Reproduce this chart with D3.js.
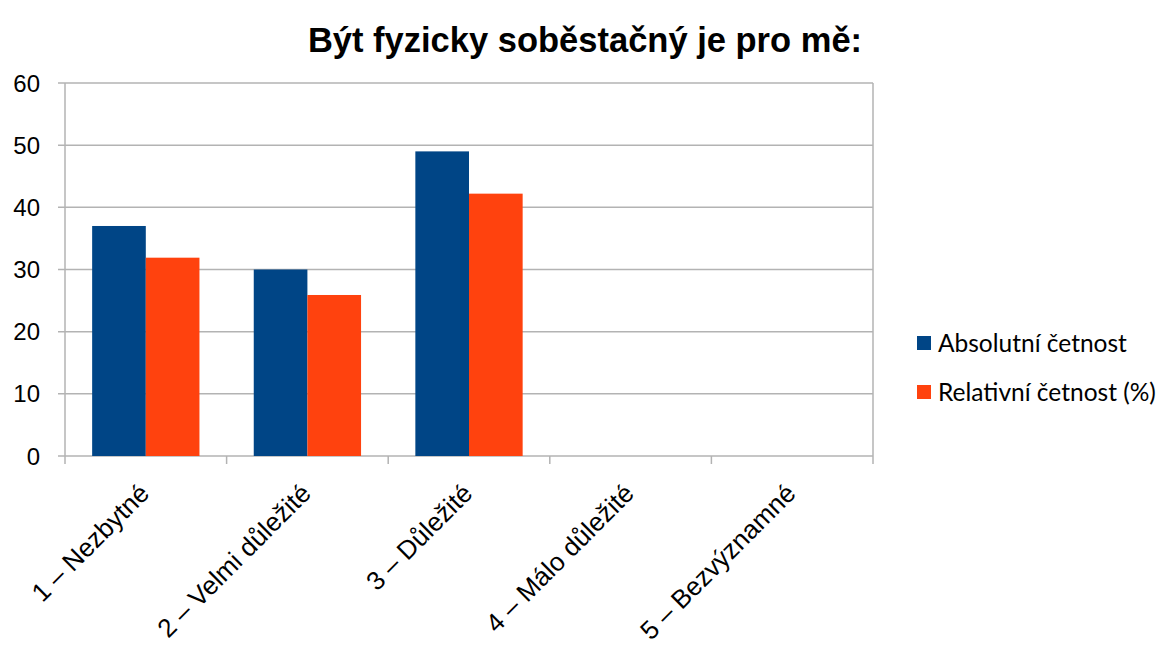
<!DOCTYPE html>
<html>
<head>
<meta charset="utf-8">
<script src="https://cdn.jsdelivr.net/npm/d3@7"></script>
<style>
  html, body { margin: 0; padding: 0; background: #fff; }
  svg { display: block; }
</style>
</head>
<body>
<svg id="chart" width="1162" height="646"></svg>
<script>
// Chart data
const categories = ["1 – Nezbytné", "2 – Velmi důležité", "3 – Důležité", "4 – Málo důležité", "5 – Bezvýznamné"];
const seriesNames = ["Absolutní četnost", "Relativní četnost (%)"];
const absoluteValues = [37, 30, 49, 0, 0];
const relativeValues = [31.9, 25.9, 42.2, 0, 0];
const yTicks = [0, 10, 20, 30, 40, 50, 60];
const colors = ["#004586", "#ff420e"];

const svg = d3.select("#chart");
const plot = { left: 65, right: 873, top: 83, bottom: 456 };
const gridColor = "#b3b3b3";

const x0 = d3.scaleBand().domain(categories).range([plot.left, plot.right]).padding(0);
const x1 = d3.scaleBand().domain(seriesNames)
  .range([x0.bandwidth() * 0.168, x0.bandwidth() * 0.832]).padding(0);
const y = d3.scaleLinear().domain([0, 60]).range([plot.bottom, plot.top]);

// Title
svg.append("text")
  .attr("x", 585).attr("y", 52)
  .attr("text-anchor", "middle")
  .attr("font-family", "Liberation Sans, Arial, sans-serif")
  .attr("font-weight", "bold")
  .attr("font-size", 34.5)
  .text("Být fyzicky soběstačný je pro mě:");

// Horizontal gridlines
svg.append("g").selectAll("line").data(yTicks).join("line")
  .attr("x1", plot.left - 7).attr("x2", plot.right)
  .attr("y1", d => y(d)).attr("y2", d => y(d))
  .attr("stroke", gridColor).attr("stroke-width", 1.5);

// Left axis line and right border
svg.append("line").attr("x1", plot.left).attr("x2", plot.left)
  .attr("y1", plot.top).attr("y2", plot.bottom + 8)
  .attr("stroke", gridColor).attr("stroke-width", 1.5);
svg.append("line").attr("x1", plot.right).attr("x2", plot.right)
  .attr("y1", plot.top).attr("y2", plot.bottom + 8)
  .attr("stroke", gridColor).attr("stroke-width", 1.5);

// Category boundary ticks below the baseline
const boundaries = categories.slice(1).map(c => x0(c));
svg.append("g").selectAll("line").data(boundaries).join("line")
  .attr("x1", d => d).attr("x2", d => d)
  .attr("y1", plot.bottom).attr("y2", plot.bottom + 8)
  .attr("stroke", gridColor).attr("stroke-width", 1.5);

// Y tick labels
svg.append("g").selectAll("text").data(yTicks).join("text")
  .attr("x", 40).attr("y", d => y(d))
  .attr("dy", "0.36em")
  .attr("text-anchor", "end")
  .attr("font-family", "Liberation Sans, Arial, sans-serif")
  .attr("font-size", 24)
  .attr("fill", "#000")
  .text(d => d);

// Bars
const rows = categories.map((c, i) => ({ cat: c, vals: [absoluteValues[i], relativeValues[i]] }));
const groups = svg.append("g").selectAll("g").data(rows).join("g")
  .attr("transform", d => `translate(${x0(d.cat)},0)`);
groups.selectAll("rect")
  .data(d => d.vals.map((v, j) => ({ name: seriesNames[j], v, j })))
  .join("rect")
  .attr("x", d => x1(d.name))
  .attr("width", x1.bandwidth())
  .attr("y", d => y(d.v))
  .attr("height", d => y(0) - y(d.v))
  .attr("fill", d => colors[d.j]);

// X category labels, rotated
svg.append("g").selectAll("text").data(categories).join("text")
  .attr("transform", d => `translate(${x0(d) + x0.bandwidth() / 2 + 5},${plot.bottom + 39}) rotate(-45)`)
  .attr("text-anchor", "end")
  .attr("font-family", "Liberation Sans, Arial, sans-serif")
  .attr("font-size", 26)
  .attr("fill", "#000")
  .text(d => d);

// Legend
const legend = svg.append("g").selectAll("g").data(seriesNames).join("g")
  .attr("transform", (d, i) => `translate(917,${343 + i * 49})`);
legend.append("rect")
  .attr("x", 0).attr("y", -7).attr("width", 14).attr("height", 14)
  .attr("fill", (d, i) => colors[i]);
legend.append("text")
  .attr("x", 21).attr("y", 0).attr("dy", "0.35em")
  .attr("font-family", "Lato, Carlito, sans-serif")
  .attr("font-size", 24.5)
  .attr("fill", "#000")
  .text(d => d);
</script>
</body>
</html>
